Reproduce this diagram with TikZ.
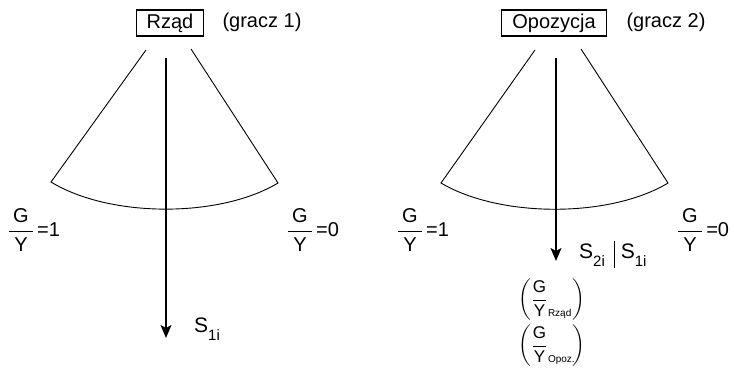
\documentclass[tikz,border=0pt]{standalone}
\usepackage{amsmath}
\usepackage{fontspec}
\setmainfont{Liberation Sans}
\usetikzlibrary{arrows.meta}

\newcommand{\gy}{\dfrac{\hspace{4pt}\text{G}\hspace{4pt}}{\hspace{4pt}\text{Y}\hspace{4pt}}}
\newcommand{\gysub}[1]{\left(\dfrac{\text{G}}{\text{Y}\rlap{\text{\,\fontsize{10}{12}\selectfont #1}}}\hspace{25pt}\right)}
\newcommand{\sidx}[1]{{\fontsize{21}{24}\selectfont S}\raisebox{-8pt}{\fontsize{15}{16}\selectfont #1}}

\begin{document}
\begin{tikzpicture}[
    x=1pt, y=-1pt,
    font=\fontsize{20}{23}\selectfont,
    player/.style={draw, line width=1.1pt, inner xsep=10.5pt, inner ysep=0pt,
                   minimum height=26pt},
    fan/.style={line width=0.9pt},
    move/.style={line width=1.7pt, -{Stealth[length=13pt, width=11pt, inset=3pt]}},
    lbl/.style={inner sep=0pt},
    stack/.style={inner sep=0pt, font=\fontsize{17}{19}\selectfont},
  ]
    \useasboundingbox (0,0) rectangle (734,369);

    % gracz 1
    \node[player] (rzad) at (170,23) {Rząd};
    \node (g1) at (262,22) {(gracz 1)};
    \draw[fan] (146,50) -- (51,182) .. controls (110,218) and (220,218) .. (278,183) -- (191,49);
    \coordinate (top1) at (166,58);
    \coordinate (tip1) at (166,338);
    \draw[move] (top1) -- (tip1);
    \node[lbl] (l1) at (34,230) {$\gy$\,=1};
    \node[lbl] (r1) at (313,230) {$\gy$\,=0};
    \node[lbl, anchor=base west] (s1) at (194,332) {\sidx{1i}};

    % gracz 2
    \node[player] (opoz) at (554,23) {Opozycja};
    \node (g2) at (666,22) {(gracz 2)};
    \draw[fan] (535,50) -- (441,183) .. controls (500,218) and (610,218) .. (668,183) -- (581,49);
    \coordinate (top2) at (556,58);
    \coordinate (tip2) at (556,261);
    \draw[move] (top2) -- (tip2);
    \node[lbl] (l2) at (423,230) {$\gy$\,=1};
    \node[lbl] (r2) at (703,230) {$\gy$\,=0};
    \node[lbl, anchor=base west] (s2) at (579,258)
      {\sidx{2i}\hspace{9pt}\rule[-10pt]{0.9pt}{27pt}\hspace{6pt}\sidx{1i}};
    \node[stack] (fr1) at (552,300) {$\gysub{Rząd}$};
    \node[stack] (fr2) at (552,346) {$\gysub{Opoz.}$};
  \end{tikzpicture}
\end{document}
